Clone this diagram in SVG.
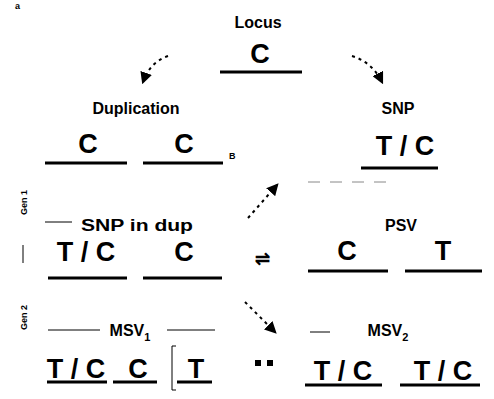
<svg xmlns="http://www.w3.org/2000/svg" width="494" height="399" viewBox="0 0 494 399">
<defs>
<marker id="ah" viewBox="0 0 10 10" refX="8" refY="5" markerWidth="6" markerHeight="6" orient="auto"><path d="M0,0 L10,5 L0,10 z" fill="#000"/></marker>
<style>
.lab{font-family:"Liberation Sans",Arial,sans-serif;font-weight:bold;font-size:16px;fill:#000;text-anchor:middle}
.al{font-family:"Liberation Sans",Arial,sans-serif;font-weight:bold;font-size:27px;fill:#000;text-anchor:middle}
.sm{font-family:"Liberation Sans",Arial,sans-serif;font-size:9px;fill:#000}
.ul{stroke:#000;stroke-width:3}
.arr{fill:none;stroke:#000;stroke-width:2;stroke-dasharray:3 4;marker-end:url(#ah)}
.thin{stroke:#000;stroke-width:1}
</style>
</defs>
<rect width="494" height="399" fill="#fff"/>
<text class="sm" x="15" y="9" font-weight="bold">a</text>

<g id="ancestral">
<text class="lab" x="258" y="28">Locus</text>
<text class="al" x="260" y="63">C</text>
<line class="ul" x1="220" y1="72" x2="302" y2="72"/>
</g>

<g id="duplication">
<text class="lab" x="136" y="114">Duplication</text>
<text class="al" x="88" y="153">C</text>
<text class="al" x="184" y="153">C</text>
<line class="ul" x1="45" y1="163" x2="127" y2="163"/>
<line class="ul" x1="143" y1="163" x2="223" y2="163"/>
<text class="sm" x="229" y="159" font-weight="bold">B</text>
</g>

<g id="snp">
<text class="lab" x="398" y="114">SNP</text>
<text class="al" x="405" y="155">T / C</text>
<line class="ul" x1="361" y1="168" x2="438" y2="168"/>
</g>

<g id="snpdup">
<text class="lab" x="137" y="231" textLength="112" lengthAdjust="spacingAndGlyphs">SNP in dup</text>
<line class="thin" x1="45" y1="222" x2="72" y2="222"/>
<text class="al" x="86" y="261">T / C</text>
<text class="al" x="184" y="261">C</text>
<line class="ul" x1="48" y1="278" x2="127" y2="278"/>
<line class="ul" x1="143" y1="278" x2="222" y2="278"/>
</g>

<g id="psv">
<text class="lab" x="401" y="231">PSV</text>
<text class="al" x="347" y="260">C</text>
<text class="al" x="443" y="260">T</text>
<line class="ul" x1="308" y1="271" x2="388" y2="271"/>
<line class="ul" x1="405" y1="271" x2="482" y2="271"/>
</g>

<g id="msv1">
<line class="thin" x1="48" y1="330" x2="100" y2="330"/>
<line class="thin" x1="167" y1="330" x2="215" y2="330"/>
<text class="lab" x="130" y="336">MSV<tspan font-size="11" dy="5">1</tspan></text>
<text class="al" x="76" y="378">T / C</text>
<text class="al" x="138" y="378">C</text>
<text class="al" x="196" y="378">T</text>
<path class="thin" d="M176,346 L172,346 L172,390 L176,390" fill="none"/>
<line class="ul" x1="47" y1="382" x2="107" y2="382"/>
<line class="ul" x1="113" y1="382" x2="157" y2="382"/>
<line class="ul" x1="177" y1="382" x2="212" y2="382"/>
</g>

<g id="msv2">
<line class="thin" x1="310" y1="332" x2="330" y2="332"/>
<text class="lab" x="388" y="336">MSV<tspan font-size="11" dy="5">2</tspan></text>
<text class="al" x="343" y="380">T / C</text>
<text class="al" x="443" y="380">T / C</text>
<line class="ul" x1="305" y1="385" x2="382" y2="385"/>
<line class="ul" x1="400" y1="385" x2="480" y2="385"/>
</g>

<g id="connectors">
<path class="arr" d="M168,56 Q150,62 143,82"/>
<path class="arr" d="M352,56 Q372,62 382,82"/>
<path class="arr" d="M248,218 L277,185"/>
<path class="arr" d="M245,302 L275,332"/>
<text x="262" y="265" font-family="Liberation Sans, sans-serif" font-size="18" font-weight="bold" text-anchor="middle">⇌</text>
<rect x="255" y="360" width="6" height="6" fill="#000"/>
<rect x="267" y="360" width="6" height="6" fill="#000"/>
<text class="sm" transform="translate(27,215) rotate(-90)" font-weight="bold">Gen 1</text>
<line class="thin" x1="23" y1="245" x2="23" y2="263"/>
<text class="sm" transform="translate(27,330) rotate(-90)" font-weight="bold">Gen 2</text>
<line x1="308" y1="182" x2="392" y2="182" stroke="#888" stroke-width="1" stroke-dasharray="12 10"/>
</g>
</svg>
